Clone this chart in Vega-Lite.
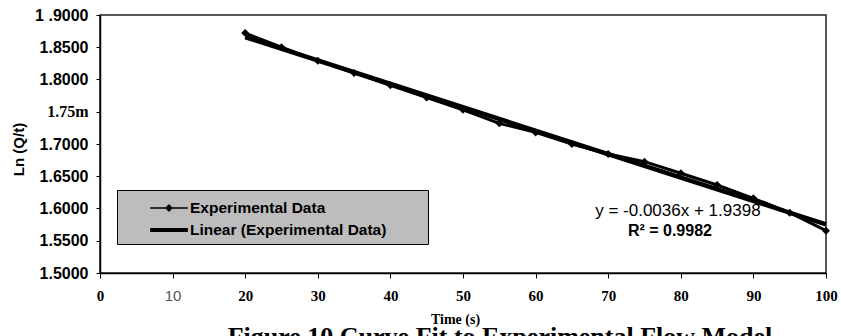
{
  "$schema": "https://vega.github.io/schema/vega-lite/v6.json",
  "width": 726,
  "height": 258,
  "autosize": {"type": "none"},
  "padding": {"left": 100, "top": 15, "right": 15, "bottom": 63},
  "background": "white",
  "title": {
    "text": "Figure 10 Curve Fit to Experimental Flow Model",
    "orient": "bottom",
    "anchor": "middle",
    "font": "Liberation Serif",
    "fontSize": 26,
    "fontWeight": "bold",
    "color": "black",
    "baseline": "top",
    "dx": 37,
    "offset": -2
  },
  "datasets": {
    "exp": [
      {"time": 20, "ln": 1.872},
      {"time": 25, "ln": 1.850},
      {"time": 30, "ln": 1.829},
      {"time": 35, "ln": 1.810},
      {"time": 40, "ln": 1.791},
      {"time": 45, "ln": 1.772},
      {"time": 50, "ln": 1.753},
      {"time": 55, "ln": 1.732},
      {"time": 60, "ln": 1.718},
      {"time": 65, "ln": 1.700},
      {"time": 70, "ln": 1.6845},
      {"time": 75, "ln": 1.6726},
      {"time": 80, "ln": 1.6546},
      {"time": 85, "ln": 1.6364},
      {"time": 90, "ln": 1.6158},
      {"time": 95, "ln": 1.5935},
      {"time": 100, "ln": 1.5656}
    ],
    "series": [
      {"series": "Experimental Data"},
      {"series": "Linear (Experimental Data)"}
    ],
    "eq": [
      {"time": 79.6, "ln": 1.596, "label": "y = -0.0036x + 1.9398"}
    ],
    "r2": [
      {"time": 78.5, "ln": 1.565, "label": "R² = 0.9982"}
    ]
  },
  "encoding": {
    "x": {
      "field": "time",
      "type": "quantitative",
      "scale": {"domain": [0, 100], "nice": false},
      "axis": {
        "title": "Time (s)",
        "values": [0, 10, 20, 30, 40, 50, 60, 70, 80, 90, 100],
        "grid": false,
        "domainColor": "black",
        "domainWidth": 1.5,
        "tickColor": "black",
        "tickSize": 5,
        "labelPadding": 10,
        "labelFontSize": 15,
        "labelFont": {"condition": {"test": "datum.value == 10", "value": "Liberation Sans"}, "value": "Liberation Serif"},
        "labelFontWeight": {"condition": {"test": "datum.value == 10", "value": "normal"}, "value": "bold"},
        "labelColor": {"condition": {"test": "datum.value == 10", "value": "#555555"}, "value": "black"},
        "labelFlush": false,
        "titleFont": "Liberation Sans Narrow",
        "titleFontSize": 14,
        "titleFontWeight": "bold",
        "titleColor": "black",
        "titleX": 355,
        "titleY": 46,
        "titleBaseline": "middle",
        "titleAlign": "center"
      }
    },
    "y": {
      "field": "ln",
      "type": "quantitative",
      "scale": {"domain": [1.5, 1.9], "nice": false, "zero": false},
      "axis": {
        "title": "Ln (Q/t)",
        "values": [1.5, 1.55, 1.6, 1.65, 1.7, 1.75, 1.8, 1.85, 1.9],
        "grid": false,
        "domainColor": "black",
        "domainWidth": 1.5,
        "tickColor": "black",
        "tickSize": 4,
        "labelPadding": 8,
        "labelFontSize": 16,
        "labelFontWeight": "bold",
        "labelColor": "black",
        "labelFont": {"condition": {"test": "datum.value == 1.75", "value": "Liberation Serif"}, "value": "Liberation Sans"},
        "labelExpr": "datum.value == 1.9 ? '1 .9000' : (datum.value == 1.75 ? '1.75m' : format(datum.value, '.4f'))",
        "labelFlush": false,
        "titleFont": "Liberation Sans",
        "titleFontSize": 15,
        "titleFontWeight": "bold",
        "titleColor": "black",
        "titleAngle": 270,
        "titleX": -82,
        "titleY": 134,
        "titleBaseline": "middle",
        "titleAlign": "center"
      }
    }
  },
  "layer": [
    {
      "data": {"name": "exp"},
      "mark": {"type": "line", "color": "black", "strokeWidth": 3}
    },
    {
      "data": {"name": "exp"},
      "transform": [{"regression": "ln", "on": "time"}],
      "mark": {"type": "line", "color": "black", "strokeWidth": 4.5}
    },
    {
      "data": {"name": "exp"},
      "mark": {"type": "point", "shape": "diamond", "filled": true, "color": "black", "size": 64, "opacity": 1}
    },
    {
      "data": {"name": "series"},
      "mark": {"type": "point", "filled": true, "color": "black", "size": 0, "opacity": 1},
      "encoding": {
        "x": {"datum": 50, "type": "quantitative"},
        "y": {"datum": 1.7, "type": "quantitative"},
        "shape": {
          "field": "series",
          "type": "nominal",
          "scale": {
            "domain": ["Experimental Data", "Linear (Experimental Data)"],
            "range": [
              "M-1.45,-0.06H1.45V0.06H-1.45ZM-0.3,0L0,-0.3L0.3,0L0,0.3Z",
              "M-1.45,-0.15H1.45V0.15H-1.45Z"
            ]
          },
          "legend": {
            "title": null,
            "orient": "none",
            "legendX": 17,
            "legendY": 175,
            "padding": 5,
            "fillColor": "#bdbdbd",
            "strokeColor": "black",
            "symbolSize": 676,
            "symbolOffset": 34,
            "symbolFillColor": "black",
            "symbolStrokeColor": "black",
            "symbolStrokeWidth": 0,
            "symbolOpacity": 1,
            "labelOffset": 8,
            "labelFont": "Liberation Sans",
            "labelFontSize": 15.5,
            "labelFontWeight": "bold",
            "labelColor": "black",
            "labelLimit": 500,
            "rowPadding": 0,
            "labelExpr": "datum.label + '\u2800\u2800\u2800'"
          }
        }
      }
    },
    {
      "data": {"name": "eq"},
      "mark": {"type": "text", "font": "Liberation Sans", "fontSize": 17, "fontWeight": "normal", "color": "black", "align": "center", "baseline": "middle"},
      "encoding": {"text": {"field": "label"}}
    },
    {
      "data": {"name": "r2"},
      "mark": {"type": "text", "font": "Liberation Sans", "fontSize": 16, "fontWeight": "bold", "color": "black", "align": "center", "baseline": "middle"},
      "encoding": {"text": {"field": "label"}}
    }
  ],
  "config": {
    "view": {"stroke": "#222222", "strokeWidth": 1.5},
    "axis": {"grid": false}
  }
}
